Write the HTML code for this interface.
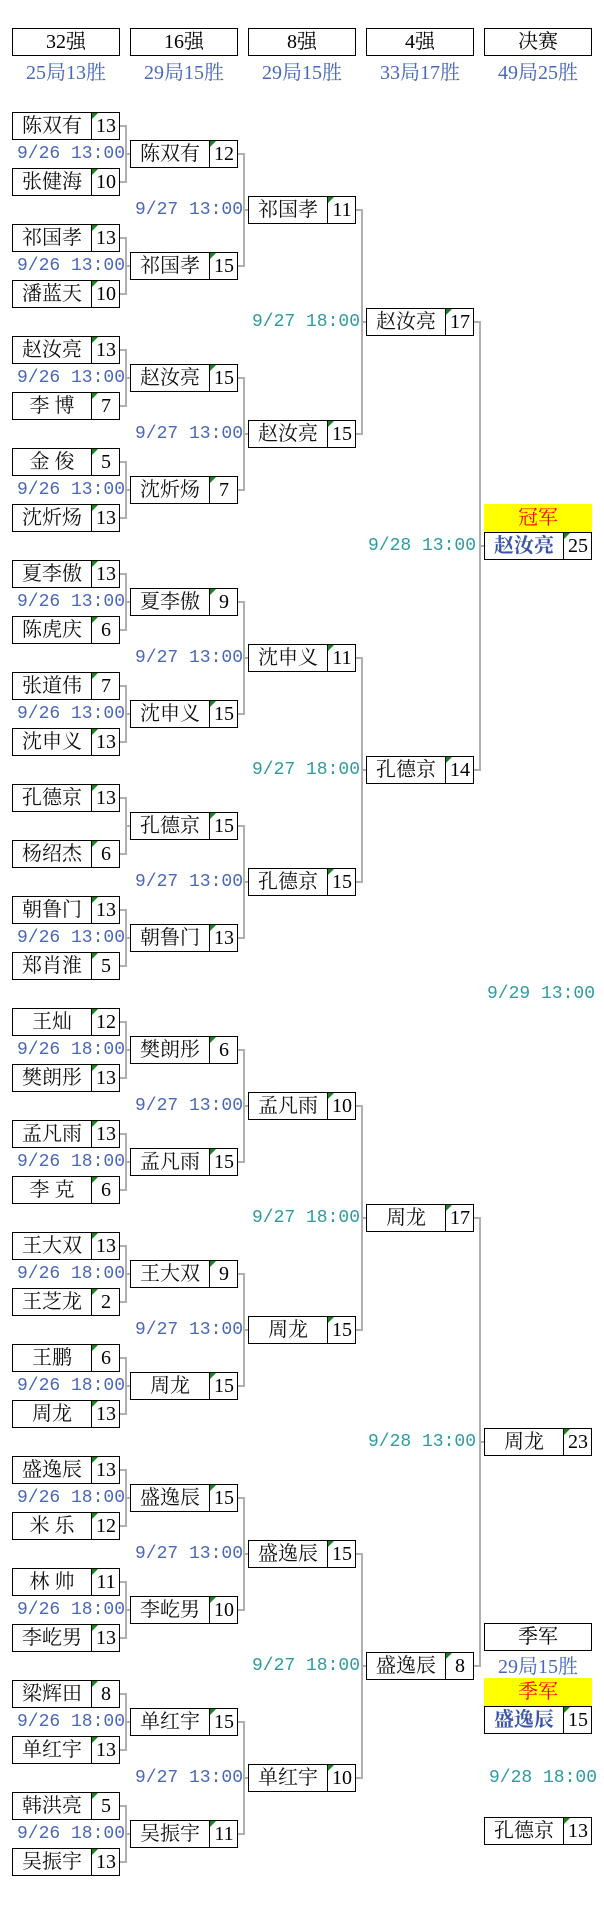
<!DOCTYPE html>
<html><head><meta charset="utf-8">
<style>
body{margin:0;width:604px;height:1906px;background:#fff;position:relative;overflow:hidden;font-family:"Liberation Serif","Noto Serif CJK SC",serif;}
.b{position:absolute;width:106px;height:26px;border:1px solid #000;background:#fff;box-sizing:content-box;}
.n{position:absolute;left:0;top:0;width:78px;height:26px;line-height:26px;text-align:center;font-size:20px;color:#111;white-space:pre;}
.s{position:absolute;left:78px;top:0;width:28px;height:26px;line-height:26px;border-left:1px solid #000;text-align:center;font-size:20px;color:#000;font-family:"Liberation Serif",serif;}
.s:before{content:"";position:absolute;left:0;top:0;border-top:6px solid #118811;border-right:6px solid transparent;}
.h{position:absolute;width:106px;height:26px;border:1px solid #000;line-height:26px;text-align:center;font-size:20px;}
.sub{position:absolute;width:108px;text-align:center;font-size:20px;color:#4a68b8;line-height:22px;}
.d{position:absolute;font-family:"Liberation Mono",monospace;font-size:18px;line-height:20px;white-space:pre;}
.blue{color:#4a68b8}.teal{color:#2f9aa0}
.l{position:absolute;background:#b0b0b0;}
.y{position:absolute;width:108px;height:28px;background:#ffff00;color:#ff0000;text-align:center;line-height:28px;font-size:20px;}
</style></head><body>
<script>
var B=document.body;
function add(h){B.insertAdjacentHTML('beforeend',h);}
function box(x,c,n,s,cls){add('<div class="b" style="left:'+x+'px;top:'+(c-14)+'px"><div class="n"'+(cls?' style="color:#3a55a8;font-weight:bold"':'')+'>'+n+'</div><div class="s">'+s+'</div></div>');}
function date(x,c,t,col){add('<div class="d '+col+'" style="left:'+x+'px;top:'+(c-10)+'px">'+t+'</div>');}
function hl(x1,x2,y){add('<div class="l" style="left:'+x1+'px;top:'+(y-1)+'px;width:'+(x2-x1)+'px;height:2px"></div>');}
function vl(x,y1,y2){add('<div class="l" style="left:'+(x-1)+'px;top:'+y1+'px;width:2px;height:'+(y2-y1)+'px"></div>');}
var cols=[12,130,248,366,484];
var heads=[["32强","25局13胜"],["16强","29局15胜"],["8强","29局15胜"],["4强","33局17胜"],["决赛","49局25胜"]];
heads.forEach(function(h,i){add('<div class="h" style="left:'+cols[i]+'px;top:28px">'+h[0]+'</div><div class="sub" style="left:'+cols[i]+'px;top:62px">'+h[1]+'</div>');});
var r=[
[["陈双有",13],["张健海",10],["祁国孝",13],["潘蓝天",10],["赵汝亮",13],["李 博",7],["金 俊",5],["沈炘炀",13],["夏李傲",13],["陈虎庆",6],["张道伟",7],["沈申义",13],["孔德京",13],["杨绍杰",6],["朝鲁门",13],["郑肖淮",5],["王灿",12],["樊朗彤",13],["孟凡雨",13],["李 克",6],["王大双",13],["王芝龙",2],["王鹏",6],["周龙",13],["盛逸辰",13],["米 乐",12],["林 帅",11],["李屹男",13],["梁辉田",8],["单红宇",13],["韩洪亮",5],["吴振宇",13]],
[["陈双有",12],["祁国孝",15],["赵汝亮",15],["沈炘炀",7],["夏李傲",9],["沈申义",15],["孔德京",15],["朝鲁门",13],["樊朗彤",6],["孟凡雨",15],["王大双",9],["周龙",15],["盛逸辰",15],["李屹男",10],["单红宇",15],["吴振宇",11]],
[["祁国孝",11],["赵汝亮",15],["沈申义",11],["孔德京",15],["孟凡雨",10],["周龙",15],["盛逸辰",15],["单红宇",10]],
[["赵汝亮",17],["孔德京",14],["周龙",17],["盛逸辰",8]]];
var dx=[17,135,252,368];
for(var k=0;k<4;k++){
  var step=56*Math.pow(2,k), first=126+ (step-56)/2;
  var x=cols[k];
  for(var i=0;i<r[k].length;i++){
    var c=first+step*i;
    box(x,c,r[k][i][0],r[k][i][1]);
    if(i%2==0){
      var c2=c+step, m=(c+c2)/2;
      var t,col;
      if(k==0){ if(i/2==6)t=null; else t=(i<16?"9/26 13:00":"9/26 18:00"); col="blue";}
      else if(k==1){t="9/27 13:00";col="blue";}
      else if(k==2){t="9/27 18:00";col="teal";}
      else {t="9/28 13:00";col="teal";}
      if(t)date(dx[k],m,t,col);
      var R=x+108;
      hl(R,R+6,c);hl(R,R+6,c2);vl(R+6,c-1,c2+1);hl(R+6,R+12,m);
    }
  }
}
add('<div class="y" style="left:484px;top:504px">冠军</div>');
box(484,546,"赵汝亮",25,1);
box(484,1442,"周龙",23);
date(487,994,"9/29 13:00","teal");
add('<div class="h" style="left:484px;top:1623px">季军</div><div class="sub" style="left:484px;top:1656px">29局15胜</div>');
add('<div class="y" style="left:484px;top:1678px">季军</div>');
box(484,1720,"盛逸辰",15,1);
date(489,1778,"9/28 18:00","teal");
box(484,1831,"孔德京",13);
</script>
</body></html>
